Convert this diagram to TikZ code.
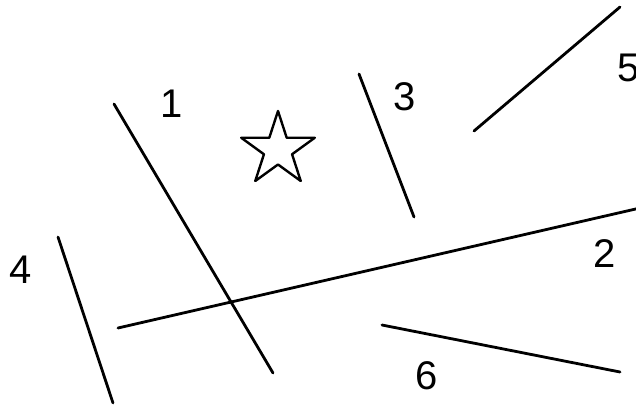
\documentclass[tikz,border=0pt]{standalone}
\usepackage{fontspec}
\setmainfont{Liberation Sans}
\usetikzlibrary{shapes.geometric}
\begin{document}
\begin{tikzpicture}[x=1pt,y=-1pt,
  seg/.style={line width=2.8pt, line cap=round},
  lbl/.style={font=\fontsize{40}{40}\selectfont, inner sep=0pt}]
\clip (0,0) rectangle (636,404);
\fill[white] (0,0) rectangle (636,404);
% segments
\coordinate (a1) at (114,104); \coordinate (b1) at (273,373);
\coordinate (a2) at (118,328); \coordinate (b2) at (640,208);
\coordinate (a3) at (359,74);  \coordinate (b3) at (414,217);
\coordinate (a4) at (58,237);  \coordinate (b4) at (113,403);
\coordinate (a5) at (474,131); \coordinate (b5) at (620,7);
\coordinate (a6) at (382,325); \coordinate (b6) at (620,372);
\draw[seg] (a1) -- (b1);
\draw[seg] (a2) -- (b2);
\draw[seg] (a3) -- (b3);
\draw[seg] (a4) -- (b4);
\draw[seg] (a5) -- (b5);
\draw[seg] (a6) -- (b6);
% labels
\node[lbl] (l1) at (172,104) {1};
\node[lbl] (l2) at (605,254) {2};
\node[lbl] (l3) at (405,97) {3};
\node[lbl] (l4) at (21,270) {4};
\node[lbl] (l5) at (629,68) {5};
\node[lbl] (l6) at (427,376) {6};
% star
\node[star, star points=5, star point ratio=2.618, minimum size=77.4pt, inner sep=0pt,
  draw, line width=2.4pt, line join=round] (s) at (278,149.7) {};
\end{tikzpicture}
\end{document}
